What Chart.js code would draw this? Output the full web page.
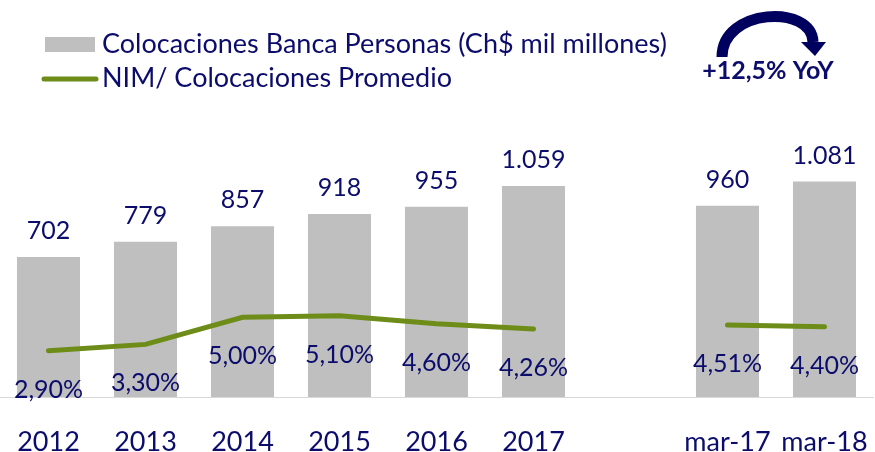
<!DOCTYPE html>
<html>
<head>
<meta charset="utf-8">
<script src="https://cdn.jsdelivr.net/npm/chart.js@4"></script>
<style>
  html, body { margin: 0; padding: 0; background: #fff; }
  #wrap { width: 875px; height: 452px; }
</style>
</head>
<body>
<div id="wrap"><canvas id="myChart"></canvas></div>
<script>
var categories = ['2012', '2013', '2014', '2015', '2016', '2017', '', 'mar-17', 'mar-18'];
var colocaciones = [702, 779, 857, 918, 955, 1059, null, 960, 1081];
var nim = [2.90, 3.30, 5.00, 5.10, 4.60, 4.26, null, 4.51, 4.40];
var legendLabels = ['Colocaciones Banca Personas (Ch$ mil millones)', 'NIM/ Colocaciones Promedio'];
var yoyLabel = '+12,5% YoY';

var navy = '#0c0c6c';
var green = '#6e8c18';
var gray = '#bfbfbf';

function miles(v) {
  var s = String(v);
  return s.length > 3 ? s.slice(0, s.length - 3) + '.' + s.slice(-3) : s;
}
function pct(v) {
  return v.toFixed(2).replace('.', ',') + '%';
}

var extras = {
  id: 'extras',
  afterDatasetsDraw: function(chart) {
    var c = chart.ctx;
    c.save();
    c.fillStyle = navy;
    c.textAlign = 'center';
    c.textBaseline = 'alphabetic';

    // bar values
    c.font = '25px Lato';
    chart.getDatasetMeta(1).data.forEach(function(el, i) {
      if (colocaciones[i] == null) return;
      c.fillText(miles(colocaciones[i]), el.x, el.y - 18);
    });

    // line values
    chart.getDatasetMeta(0).data.forEach(function(el, i) {
      if (nim[i] == null) return;
      c.fillText(pct(nim[i]), el.x, el.y + 47);
    });

    // legend
    c.fillStyle = gray;
    c.fillRect(45, 37, 50, 15);
    c.strokeStyle = green;
    c.lineWidth = 5;
    c.lineCap = 'round';
    c.beginPath();
    c.moveTo(44, 79);
    c.lineTo(96, 79);
    c.stroke();
    c.fillStyle = navy;
    c.textAlign = 'left';
    c.textBaseline = 'middle';
    c.font = '27px Lato';
    c.fillText(legendLabels[0], 102, 44);
    c.fillText(legendLabels[1], 102, 78);

    // yoy arrow
    c.strokeStyle = '#00005f';
    c.fillStyle = '#00005f';
    c.lineWidth = 11;
    c.lineCap = 'butt';
    c.beginPath();
    c.moveTo(722, 57);
    c.bezierCurveTo(722, 8, 812, 4, 813, 42);
    c.stroke();
    c.beginPath();
    c.moveTo(801, 42);
    c.lineTo(826, 42);
    c.lineTo(815, 56);
    c.closePath();
    c.fill();
    c.fillStyle = navy;
    c.textAlign = 'center';
    c.font = 'bold 25px Lato';
    c.fillText(yoyLabel, 768, 71);
    c.restore();
  }
};

new Chart(document.getElementById('myChart'), {
  type: 'bar',
  data: {
    labels: categories,
    datasets: [{
      type: 'line',
      label: legendLabels[1],
      data: nim,
      yAxisID: 'y1',
      borderColor: green,
      borderWidth: 5,
      borderCapStyle: 'round',
      pointRadius: 0,
      tension: 0,
      spanGaps: false,
      order: 0
    }, {
      type: 'bar',
      label: legendLabels[0],
      data: colocaciones,
      yAxisID: 'y',
      backgroundColor: gray,
      barPercentage: 0.65,
      categoryPercentage: 1,
      order: 1
    }]
  },
  options: {
    responsive: true,
    maintainAspectRatio: false,
    animation: false,
    layout: { padding: { top: 118, left: 0, right: 2, bottom: 0 } },
    plugins: {
      legend: { display: false },
      tooltip: { enabled: false }
    },
    scales: {
      x: {
        grid: { display: false, drawTicks: false },
        border: { display: true, color: '#d9d9d9', width: 1 },
        ticks: { color: navy, font: { family: 'Lato', size: 27 }, padding: 29, maxRotation: 0, autoSkip: false },
        afterFit: function(s) { s.height = 55; s.paddingLeft = 0; s.paddingRight = 0; }
      },
      y: { display: false, min: 0, max: 1400 },
      y1: { display: false, min: 0, max: 17.5 }
    }
  },
  plugins: [extras]
});
</script>
</body>
</html>
